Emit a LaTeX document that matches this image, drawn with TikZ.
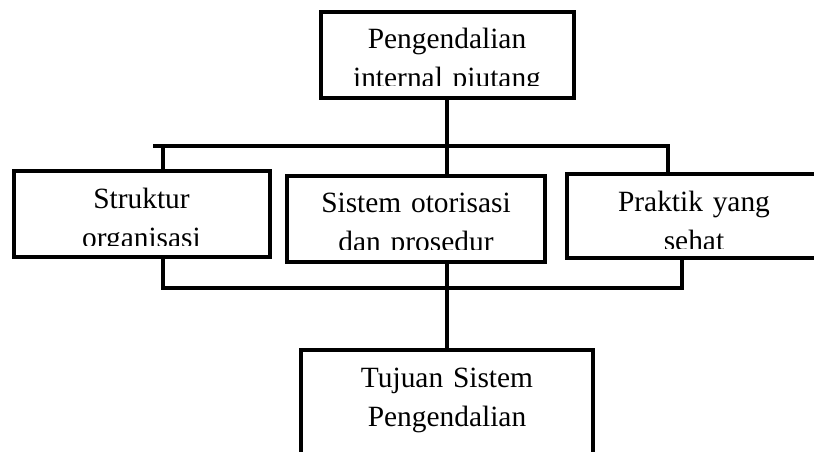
\documentclass[tikz,border=0pt]{standalone}
\usepackage{fontspec}
\setmainfont{Liberation Serif}
\usetikzlibrary{calc}
\tikzset{
  kotak/.style={draw=black, line width=4pt, fill=white, inner sep=0pt, outer sep=0pt},
  garis/.style={draw=black, line width=4.5pt},
  teks/.style={anchor=base, align=center, inner sep=0pt,
               font=\fontsize{29.4}{39}\selectfont},
}

\begin{document}
\begin{tikzpicture}[x=1pt, y=-1pt]
  \useasboundingbox (0,0) rectangle (814,452);
  \clip (0,0) rectangle (814,452);
  % the boxes
  \node[kotak, minimum width=253pt, minimum height=86pt] (ctrl) at (447,55) {};
  \node[kotak, minimum width=256pt, minimum height=86pt] (struk) at (141.5,214) {};
  \node[kotak, minimum width=258pt, minimum height=86pt] (otor) at (416,218.7) {};
  \node[kotak, minimum width=255pt, minimum height=84pt] (prak) at (694,216) {};
  \node[kotak, minimum width=292pt, minimum height=120pt] (tuju) at (447,410) {};
  % bus lines
  \coordinate (busA) at (153,146);
  \coordinate (busB) at (668,146);
  \coordinate (turunL) at (163,146);
  \coordinate (turunM) at (447,146);
  \coordinate (naikL) at (163,288);
  \coordinate (naikM) at (447,288);
  \coordinate (naikR) at (682,288);
  \draw[garis] (ctrl.south) -- (ctrl.south |- busA);
  \draw[garis] (busA) -- (busB) -- (busB |- prak.north);
  \draw[garis] (turunL) -- (turunL |- struk.north);
  \draw[garis] (turunM) -- (turunM |- otor.north);
  \draw[garis] (struk.south -| naikL) -- (naikL) -- (naikR) -- (naikR |- prak.south);
  \draw[garis] (otor.south -| naikM) -- (naikM);
  \draw[garis] (naikM) -- (naikM |- tuju.north);
  % texts, cut off at the lower edge like the boxes in the source
  \begin{scope}
    \clip (ctrl.north west) rectangle ([yshift=12pt]ctrl.south east);
    \node[teks, text width=253pt] (ctrlTxt) at ([yshift=-37pt]ctrl.north) {Pengendalian\\internal piutang};
  \end{scope}
  \begin{scope}
    \clip (struk.north west) rectangle ([yshift=12pt]struk.south east);
    \node[teks, text width=256pt] (strukTxt) at ([yshift=-37pt]struk.north) {Struktur\\organisasi};
  \end{scope}
  \begin{scope}
    \clip (otor.north west) rectangle ([yshift=12pt]otor.south east);
    \node[teks, text width=258pt] (otorTxt) at ([yshift=-37pt]otor.north) {Sistem otorisasi\\dan prosedur};
  \end{scope}
  \begin{scope}
    \clip (prak.north west) rectangle ([yshift=10pt]prak.south east);
    \node[teks, text width=255pt] (prakTxt) at ([yshift=-37pt]prak.north) {Praktik yang\\sehat};
  \end{scope}
  \node[teks, text width=292pt] (tujuTxt) at ([yshift=-37pt]tuju.north) {Tujuan Sistem\\Pengendalian};
\end{tikzpicture}
\end{document}
